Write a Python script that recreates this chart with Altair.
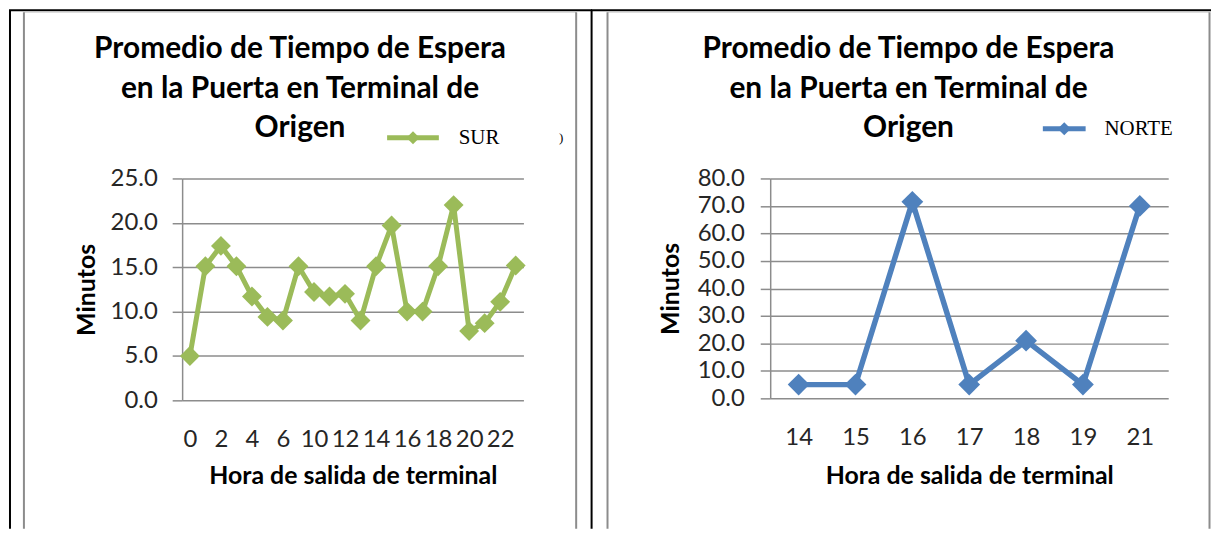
import altair as alt
import pandas as pd

# ---- data ----
sur_hours = [0, 1, 2, 3, 4, 5, 6, 8, 10, 11, 12, 13, 14, 15, 16, 17, 18, 19, 20, 21, 22, 23]
sur_minutes = [5.0, 15.1, 17.4, 15.1, 11.7, 9.4, 9.0, 15.1, 12.2, 11.7, 12.0, 9.0,
               15.1, 19.7, 10.0, 10.0, 15.1, 22.0, 7.8, 8.7, 11.1, 15.2]
sur_tick_labels = [0, 2, 4, 6, 10, 12, 14, 16, 18, 20, 22]
sur_y_ticks = [0, 5, 10, 15, 20, 25]

norte_hours = [14, 15, 16, 17, 18, 19, 21]
norte_minutes = [5.0, 5.0, 71.5, 5.0, 21.0, 5.0, 70.0]
norte_y_ticks = [0, 10, 20, 30, 40, 50, 60, 70, 80]

title_lines = ["Promedio de Tiempo de Espera", "en la Puerta en Terminal de", "Origen"]
x_title = "Hora de salida de terminal"
y_title = "Minutos"

GREEN = "#9BBB59"
BLUE = "#4F81BD"
GRID = "#8c8c8c"
FONT = "Lato"

sur_df = pd.DataFrame({"hour": sur_hours, "minutes": sur_minutes})
norte_df = pd.DataFrame({"hour": norte_hours, "minutes": norte_minutes})

ONE = alt.Data(values=[{"k": 0}])


def rule(x1, x2, y1, y2, color, width):
    return alt.Chart(ONE).mark_rule(color=color, strokeWidth=width).encode(
        x=alt.value(x1), x2=alt.value(x2), y=alt.value(y1), y2=alt.value(y2)
    )


def text(t, x, y, size, weight="normal", font=FONT, align="center", color="#000000"):
    return alt.Chart(ONE).mark_text(
        text=t, font=font, fontSize=size, fontWeight=weight, align=align,
        baseline="middle", color=color
    ).encode(x=alt.value(x), y=alt.value(y))


def panel(df, hours, ticks_x, ticks_y, ymax, color, w, h, pt_size, stroke,
          title_cx, legend, frame, y_title_x, x_title_y, label_pad):
    x_enc = alt.X(
        "hour:O", sort=hours,
        axis=alt.Axis(
            values=ticks_x, labelAngle=0, domain=False, ticks=False, tickSize=0,
            grid=False, labelFont=FONT, labelFontSize=24, labelColor="#262626",
            labelPadding=27, labelOverlap=False,
            title=x_title, titleFont=FONT, titleFontSize=25, titleFontWeight="bold",
            titleColor="#000000", titleX=w / 2, titleY=x_title_y,
            titleBaseline="middle", titleAlign="center",
        ),
    )
    y_enc = alt.Y(
        "minutes:Q",
        scale=alt.Scale(domain=[0, ymax], nice=False, zero=True),
        axis=alt.Axis(
            values=ticks_y, format=".1f", grid=True, gridColor=GRID, gridWidth=1.5,
            tickColor=GRID, tickSize=10, tickWidth=1.5, domainColor=GRID,
            domainWidth=1.5, labelFont=FONT, labelFontSize=24, labelColor="#262626",
            labelPadding=label_pad,
            title=y_title, titleFont=FONT, titleFontSize=25, titleFontWeight="bold",
            titleColor="#000000", titleAngle=270, titleX=y_title_x, titleY=h / 2,
            titleBaseline="middle", titleAlign="center",
        ),
    )
    base = alt.Chart(df)
    line = base.mark_line(color=color, strokeWidth=stroke).encode(x=x_enc, y=y_enc)
    pts = base.mark_point(shape="diamond", filled=True, size=pt_size, color=color,
                          opacity=1).encode(x=x_enc, y=y_enc)

    layers = [line, pts]
    # title
    for t, yy in zip(title_lines, [-130, -90, -51]):
        layers.append(text(t, title_cx, yy, 30, weight="bold"))
    # legend
    lx1, lx2, ly, lname, ltx = legend
    layers.append(rule(lx1, lx2, ly, ly, color, 5))
    layers.append(
        alt.Chart(ONE).mark_point(shape="diamond", filled=True, size=170, color=color,
                                  opacity=1).encode(x=alt.value((lx1 + lx2) / 2), y=alt.value(ly))
    )
    layers.append(text(lname, ltx, ly, 21, font="Liberation Serif", align="left"))
    layers.extend(frame)
    return alt.layer(*layers).properties(width=w, height=h)


# left panel: plot origin at page (182, 178)
left_frame = [
    rule(-174, 412, -169, -169, "#000000", 2),        # table top line
    rule(-173, -173, -169, 352, "#000000", 2),        # table left line
    rule(411.5, 411.5, -169, 352, "#000000", 2),      # table middle line
    rule(-159, 396, -167, -167, "#d4d4d4", 1),        # chart frame top
    rule(-159, -159, -167, 352, GRID, 2),             # chart frame left
    rule(396, 396, -167, 352, GRID, 2),               # chart frame right
    text(")", 381, -41, 13, font="Liberation Serif"),
]
left = panel(
    sur_df, sur_hours, sur_tick_labels, sur_y_ticks, 25, GREEN, 343, 223, 400, 5,
    118.5, (206, 258, -41, "SUR", 278), left_frame, -96, 76, 15,
)

# right panel: plot origin at page (773, 178)
right_frame = [
    rule(-180, 443, -169, -169, "#000000", 2),
    rule(-163.5, 441.5, -167, -167, "#d4d4d4", 1),
    rule(-163.5, -163.5, -167, 352, GRID, 2),
    rule(441.5, 441.5, -167, 352, GRID, 2),
]
right = panel(
    norte_df, norte_hours, norte_hours, norte_y_ticks, 80, BLUE, 400, 221, 480, 5.5,
    139, (274, 317, -50, "NORTE", 336), right_frame, -100, 78, 16,
)

chart = alt.hconcat(left, right, spacing=248, bounds="flush").properties(
    padding=0, background="white"
).configure_view(stroke=None)

chart.save("out.html", embed_options={"renderer": "svg", "actions": False})
